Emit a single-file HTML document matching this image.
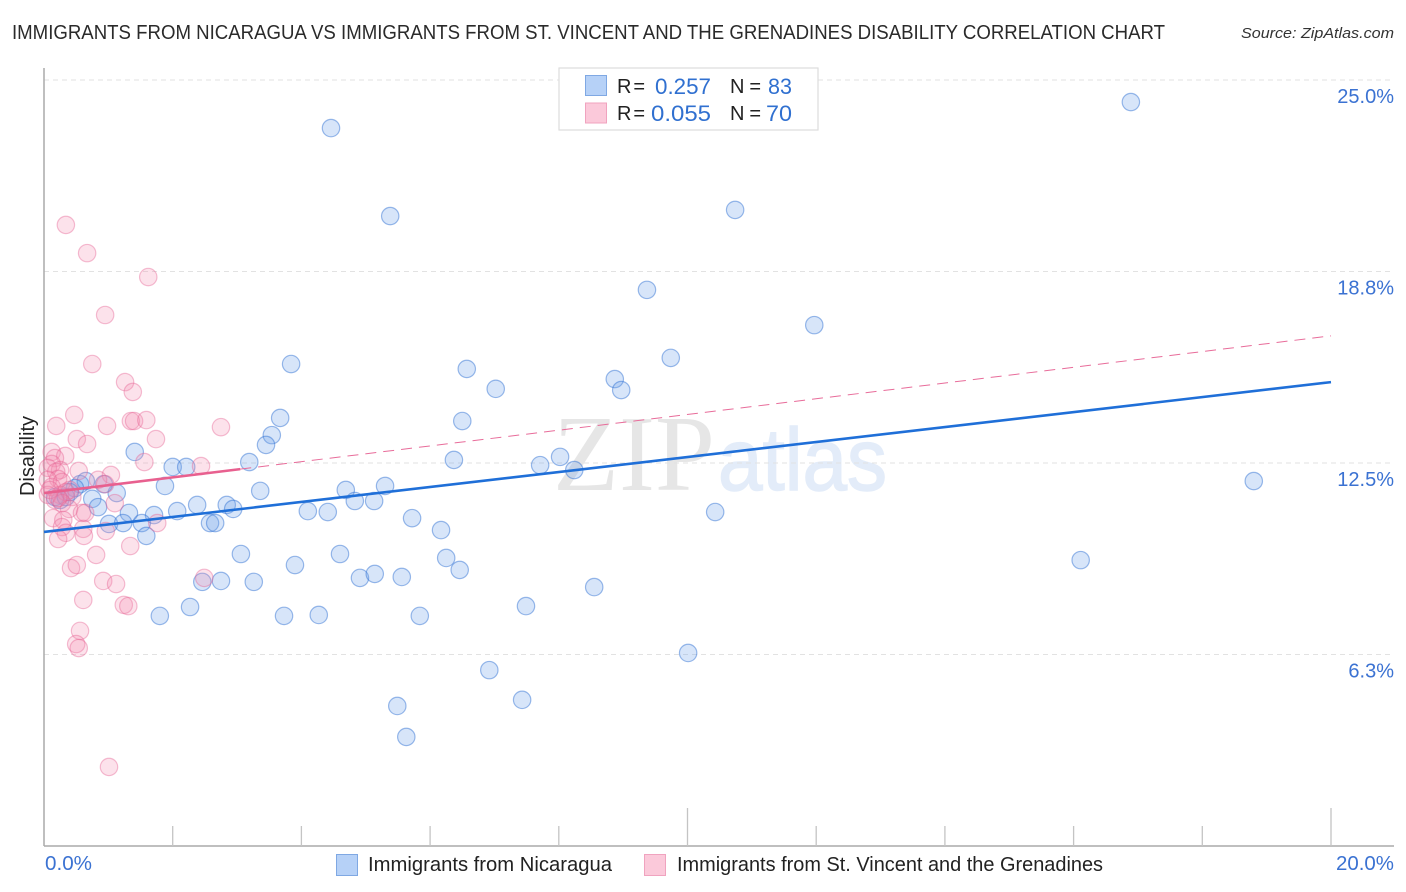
<!DOCTYPE html>
<html>
<head>
<meta charset="utf-8">
<title>Disability correlation chart</title>
<style>
html,body{margin:0;padding:0;background:#fff;}
svg{display:block;font-family:"Liberation Sans",sans-serif;}
</style>
</head>
<body>
<svg id="chart" xmlns="http://www.w3.org/2000/svg" width="1406" height="892" viewBox="0 0 1406 892">
  <rect width="1406" height="892" fill="#fff"/>
  <text x="12" y="39" font-size="20" fill="#2a2a2a" textLength="1153" lengthAdjust="spacingAndGlyphs">IMMIGRANTS FROM NICARAGUA VS IMMIGRANTS FROM ST. VINCENT AND THE GRENADINES DISABILITY CORRELATION CHART</text>
  <text x="1241" y="38" font-size="15" font-style="italic" fill="#333" textLength="153" lengthAdjust="spacingAndGlyphs">Source: ZipAtlas.com</text>
  <g>
    <text x="553" y="490" font-size="108" font-family="'Liberation Serif',serif" fill="#e6e6e6" textLength="162" lengthAdjust="spacingAndGlyphs">ZIP</text>
    <text x="718" y="490" font-size="88" font-family="'Liberation Sans',sans-serif" fill="#e3ecf9" stroke="#e3ecf9" stroke-width="1.5" textLength="169" lengthAdjust="spacingAndGlyphs">atlas</text>
  </g>
  <g id="grid"></g>
  <g id="axes"></g>
  <g id="pts"></g>
  <g id="trends"></g>
  <g>
    <rect x="559" y="68" width="259" height="62" fill="#fff" stroke="#ddd" stroke-width="1.2"/>
    <rect x="585.5" y="75.5" width="21" height="20" fill="#b6d1f7" stroke="#7fa8e3"/>
    <rect x="585.5" y="103" width="21" height="20" fill="#fbc9da" stroke="#f0a3bf"/>
    <text x="617" y="93" font-size="20" fill="#222" textLength="28" lengthAdjust="spacing">R =</text>
    <text x="655" y="94" font-size="22" fill="#3070d0" textLength="56" lengthAdjust="spacingAndGlyphs">0.257</text>
    <text x="730" y="93" font-size="20" fill="#222" textLength="31" lengthAdjust="spacing">N =</text>
    <text x="768" y="94" font-size="22" fill="#3070d0" textLength="24" lengthAdjust="spacingAndGlyphs">83</text>
    <text x="617" y="120" font-size="20" fill="#222" textLength="28" lengthAdjust="spacing">R =</text>
    <text x="651" y="121" font-size="22" fill="#3070d0" textLength="60" lengthAdjust="spacingAndGlyphs">0.055</text>
    <text x="730" y="120" font-size="20" fill="#222" textLength="31" lengthAdjust="spacing">N =</text>
    <text x="766" y="121" font-size="22" fill="#3070d0" textLength="26" lengthAdjust="spacingAndGlyphs">70</text>
  </g>
  <text transform="translate(34,456) rotate(-90)" text-anchor="middle" font-size="20" fill="#222">Disability</text>
  <g>
    <rect x="336.5" y="854.5" width="21" height="21" fill="#b6d1f7" stroke="#7fa8e3"/>
    <text x="368" y="871" font-size="20" fill="#222" textLength="244" lengthAdjust="spacingAndGlyphs">Immigrants from Nicaragua</text>
    <rect x="644.5" y="854.5" width="21" height="21" fill="#fbc9da" stroke="#f0a3bf"/>
    <text x="677" y="871" font-size="20" fill="#222" textLength="426" lengthAdjust="spacingAndGlyphs">Immigrants from St. Vincent and the Grenadines</text>
  </g>
</svg>
<script>
const xTickValues = [0, 2, 4, 6, 8, 10, 12, 14, 16, 18, 20];
const xTickLabels = ["0.0%", "", "", "", "", "", "", "", "", "", "20.0%"];
const yTickValues = [25, 18.75, 12.5, 6.25];
const yTickLabels = ["25.0%", "18.8%", "12.5%", "6.3%"];

const blueX = [4.46,16.89,5.38,10.74,9.37,11.97,9.74,3.84,6.57,8.87,8.97,7.02,3.67,6.50,3.54,3.45,1.41,3.19,6.37,8.02,7.71,8.24,2.00,2.21,1.88,18.80,4.69,5.30,3.36,1.13,0.56,0.65,0.93,0.48,0.75,0.84,2.38,2.84,2.94,4.83,5.13,2.07,1.32,1.71,4.10,4.41,10.43,5.72,1.01,1.23,1.52,2.58,2.66,6.17,1.59,3.06,4.60,6.25,16.11,3.90,6.46,4.91,5.14,5.56,2.75,3.26,2.46,8.55,2.27,7.49,1.80,3.73,4.27,5.84,10.01,6.92,7.43,5.49,5.63,0.25,0.17,0.34,0.40];
const blueY = [23.43,24.28,20.56,20.76,18.15,17.00,15.93,15.73,15.57,15.24,14.88,14.92,13.97,13.87,13.41,13.09,12.86,12.53,12.60,12.70,12.43,12.27,12.37,12.37,11.75,11.91,11.62,11.75,11.59,11.52,11.81,11.91,11.81,11.68,11.33,11.06,11.13,11.13,11.00,11.26,11.26,10.93,10.87,10.80,10.93,10.90,10.90,10.70,10.51,10.54,10.54,10.54,10.54,10.31,10.12,9.53,9.53,9.40,9.33,9.17,9.01,8.75,8.88,8.78,8.65,8.62,8.62,8.45,7.80,7.83,7.51,7.51,7.54,7.51,6.30,5.74,4.77,4.57,3.56,11.29,11.39,11.39,11.55];

const pinkX = [0.34,0.67,1.62,0.95,0.75,1.26,1.38,0.47,0.19,0.98,1.35,1.40,1.59,2.75,1.74,0.51,0.67,0.12,0.33,0.17,1.56,2.44,0.12,0.25,0.06,0.54,0.19,1.04,0.84,0.22,0.06,0.28,0.12,0.95,0.40,0.25,0.06,0.34,0.17,0.44,0.28,1.10,0.39,0.59,0.64,0.14,0.30,1.76,0.28,0.61,0.96,0.34,0.62,0.22,1.34,0.81,0.42,0.51,2.49,0.92,1.12,0.61,1.24,1.31,0.56,0.50,0.54,1.01,0.09,0.22];
const pinkY = [20.27,19.35,18.57,17.33,15.73,15.14,14.82,14.07,13.71,13.71,13.87,13.87,13.90,13.67,13.28,13.28,13.12,12.86,12.73,12.66,12.53,12.40,12.47,12.27,12.34,12.24,12.21,12.11,11.95,11.98,11.95,11.88,11.72,11.81,11.62,11.46,11.46,11.55,11.29,11.39,11.19,11.19,11.00,10.87,10.87,10.70,10.64,10.54,10.41,10.35,10.28,10.22,10.12,10.02,9.79,9.50,9.07,9.17,8.75,8.65,8.55,8.03,7.87,7.83,7.02,6.59,6.46,2.58,11.62,11.36];

const blueTrendX = [0, 20];
const blueTrendY = [10.25, 15.14];
const pinkSolidX = [0, 3.05];
const pinkSolidY = [11.52, 12.3];
const pinkDashX = [3.05, 20];
const pinkDashY = [12.3, 16.65];

const NS = "http://www.w3.org/2000/svg";
function sx(v) { return 44 + (v / 20) * 1287; }
function sy(v) { return 846 - (v / 25) * 766; }
function mk(parent, tag, attrs, text) {
  const el = document.createElementNS(NS, tag);
  for (const k in attrs) el.setAttribute(k, attrs[k]);
  if (text !== undefined) el.textContent = text;
  parent.appendChild(el);
  return el;
}
const grid = document.getElementById("grid");
const axes = document.getElementById("axes");
const pts = document.getElementById("pts");
const trends = document.getElementById("trends");

yTickValues.forEach(function (v, i) {
  const line = mk(grid, "line", {x1: 44, x2: 1394, y1: sy(v), y2: sy(v), stroke: "#e2e2e2", "stroke-width": 1, "stroke-dasharray": "5 4"});
  
  
  const lab = mk(axes, "text", {x: 1394, y: sy(v) + 23, "text-anchor": "end", "font-size": 20, fill: "#3b72d2"}, yTickLabels[i]);
  
  
});

const yAxis = mk(axes, "line", {x1: 44, x2: 44, y1: 68, y2: 846, stroke: "#aaa", "stroke-width": 1.5});


const xAxis = mk(axes, "line", {x1: 44, x2: 1394, y1: 846, y2: 846, stroke: "#aaa", "stroke-width": 1.5});



xTickValues.forEach(function (v, i) {
  if (i > 0) {
    const tall = v === 10 || v === 20;
    const tick = mk(axes, "line", {x1: sx(v), x2: sx(v), y1: tall ? 808 : 826, y2: 846, stroke: "#c4c4c4", "stroke-width": 1.3});
    
    
  }
  if (xTickLabels[i]) {
    const last = i === xTickValues.length - 1;
    const lab = mk(axes, "text", {x: last ? 1336 : 45, y: 870, "font-size": 20, fill: "#3b72d2", textLength: last ? 58 : 47, lengthAdjust: "spacingAndGlyphs"}, xTickLabels[i]);
    
    
  }
});

blueX.forEach(function (v, i) {
  const c = mk(pts, "circle", {cx: sx(v), cy: sy(blueY[i]), r: 8.7, fill: "rgba(110,160,235,0.28)", stroke: "rgba(45,110,210,0.47)", "stroke-width": 1.2});
  
  
});
pinkX.forEach(function (v, i) {
  const c = mk(pts, "circle", {cx: sx(v), cy: sy(pinkY[i]), r: 8.7, fill: "rgba(245,140,175,0.25)", stroke: "rgba(230,95,145,0.4)", "stroke-width": 1.2});
  
  
});

const blueTrend = mk(trends, "line", {x1: sx(blueTrendX[0]), y1: sy(blueTrendY[0]), x2: sx(blueTrendX[1]), y2: sy(blueTrendY[1]), stroke: "#1f6fd8", "stroke-width": 2.6});


const pinkDash = mk(trends, "line", {x1: sx(pinkDashX[0]), y1: sy(pinkDashY[0]), x2: sx(pinkDashX[1]), y2: sy(pinkDashY[1]), stroke: "#e86c9a", "stroke-width": 1, "stroke-dasharray": "11 7"});


const pinkSolid = mk(trends, "line", {x1: sx(pinkSolidX[0]), y1: sy(pinkSolidY[0]), x2: sx(pinkSolidX[1]), y2: sy(pinkSolidY[1]), stroke: "#e8608f", "stroke-width": 2.6});


</script>
</body>
</html>
